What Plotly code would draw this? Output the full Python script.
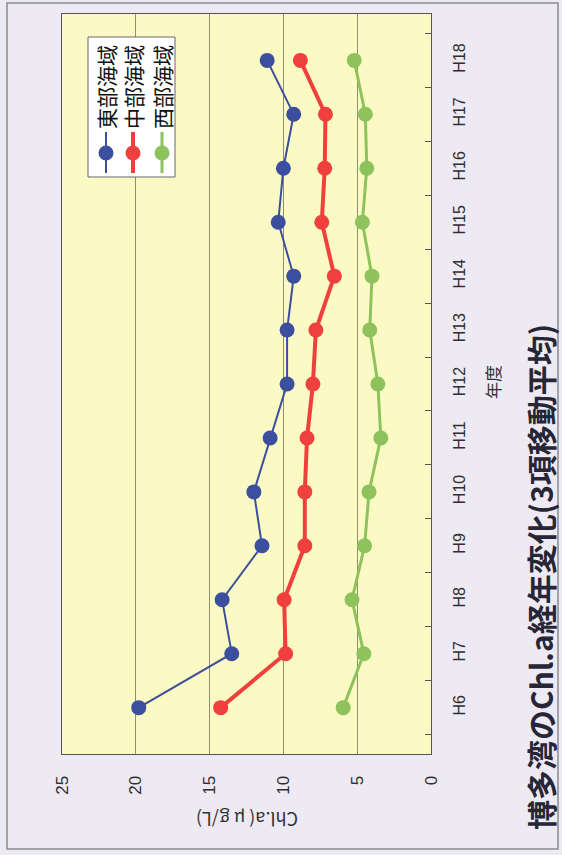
import plotly.graph_objects as go

years = ["H6", "H7", "H8", "H9", "H10", "H11", "H12", "H13", "H14", "H15", "H16", "H17", "H18"]
east = [19.8, 13.5, 14.15, 11.45, 12.0, 10.9, 9.75, 9.75, 9.3, 10.35, 10.0, 9.3, 11.1]
mid = [14.25, 9.85, 9.95, 8.55, 8.55, 8.4, 8.0, 7.8, 6.55, 7.4, 7.2, 7.15, 8.85]
west = [5.95, 4.55, 5.35, 4.5, 4.2, 3.4, 3.6, 4.15, 4.0, 4.65, 4.35, 4.45, 5.2]
series_names = ["東部海域", "中部海域", "西部海域"]
series_colors = ["#3C4E9E", "#F0403E", "#8DC25C"]
series_widths = [2, 4, 3]
value_ticks = [0, 5, 10, 15, 20, 25]

W, H = 562, 855
L, R, T, B = 62, 431, 14, 754


def px(x):
    return (x - L) / (R - L)


def py(y):
    return (B - y) / (B - T)


fig = go.Figure()
for name, vals, col, lw in zip(series_names, [east, mid, west], series_colors, series_widths):
    fig.add_trace(go.Scatter(
        x=vals, y=years, mode="lines+markers", name=name,
        line=dict(color=col, width=lw),
        marker=dict(color=col, size=15),
        showlegend=False,
    ))

font_lat = "Liberation Sans"
font_jp = "Noto Sans CJK JP"

fig.update_layout(
    width=W, height=H,
    margin=dict(l=L, r=W - R, t=T, b=H - B),
    paper_bgcolor="#EEEAF4",
    plot_bgcolor="#FCFAC4",
    font=dict(family=font_lat),
    xaxis=dict(
        range=[25, 0], tickvals=value_ticks, ticktext=[str(v) for v in value_ticks],
        tickangle=-90, showgrid=True, gridcolor="#8E8E72", gridwidth=1,
        zeroline=False, showline=True, mirror=True, linecolor="#555555", linewidth=1.2,
        ticks="", ticklabelstandoff=14,
        tickfont=dict(family=font_lat, size=17, color="#2E2E2E"),
    ),
    yaxis=dict(
        type="category", categoryorder="array", categoryarray=years,
        side="right", tickangle=-90, ticks="inside", tickson="boundaries",
        ticklen=6, tickcolor="#555555", showgrid=False,
        showline=True, mirror=True, linecolor="#555555", linewidth=1.2,
        ticklabelstandoff=14,
        tickfont=dict(family=font_lat, size=16, color="#2E2E2E"),
    ),
)

shapes = []
# outer frame
shapes.append(dict(type="rect", xref="paper", yref="paper",
                   x0=px(7), x1=px(558), y0=py(849), y1=py(3),
                   line=dict(color="#8A8A8A", width=1.5), fillcolor="rgba(0,0,0,0)", layer="below"))
# legend box
shapes.append(dict(type="rect", xref="paper", yref="paper",
                   x0=px(88), x1=px(175), y0=py(177), y1=py(37),
                   line=dict(color="#666666", width=1), fillcolor="#FFFFFF"))
leg_x = [106, 133, 162]
annotations = []
for xx, name, col, lw in zip(leg_x, series_names, series_colors, series_widths):
    shapes.append(dict(type="line", xref="paper", yref="paper",
                       x0=px(xx), x1=px(xx), y0=py(173), y1=py(132),
                       line=dict(color=col, width=lw)))
    shapes.append(dict(type="circle", xref="paper", yref="paper",
                       x0=px(xx - 7.5), x1=px(xx + 7.5), y0=py(160.5), y1=py(145.5),
                       line=dict(color=col, width=0), fillcolor=col))
    annotations.append(dict(text=name, xref="paper", yref="paper", x=px(xx), y=py(87),
                            xanchor="center", yanchor="middle",
                            textangle=-90, showarrow=False,
                            font=dict(family=font_jp, size=21, color="#111111")))

annotations.append(dict(text="年度", xref="paper", yref="paper", x=px(492), y=py(382),
                        xanchor="center", yanchor="middle",
                        textangle=-90, showarrow=False,
                        font=dict(family=font_jp, size=17, color="#333333")))
annotations.append(dict(text="Chl.a( μ g/L)", xref="paper", yref="paper", x=px(247), y=py(820),
                        xanchor="center", yanchor="middle",
                        textangle=180, showarrow=False,
                        font=dict(family=font_jp, size=18, color="#333333")))
annotations.append(dict(text="<b>博多湾のChl.a経年変化(3項移動平均)</b>", xref="paper", yref="paper",
                        x=px(540), y=py(577), xanchor="center", yanchor="middle",
                        textangle=-90, showarrow=False,
                        font=dict(family=font_jp, size=30, color="#262636")))

fig.update_layout(shapes=shapes, annotations=annotations)
fig.write_html("out.html")
